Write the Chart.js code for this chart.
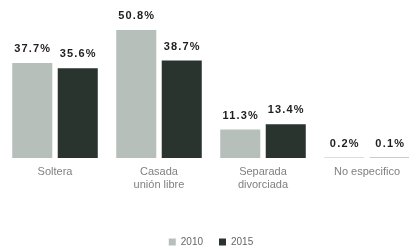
<!DOCTYPE html>
<html>
<head>
<meta charset="utf-8">
<script src="https://cdn.jsdelivr.net/npm/chart.js@4/dist/chart.umd.min.js"></script>
<style>
html,body{margin:0;padding:0;background:#fff;overflow:hidden;width:409px;height:248px;}
#wrap{width:422px;height:248px;}
</style>
</head>
<body>
<div id="wrap"><canvas id="c" width="422" height="248"></canvas></div>
<script>
const categories = [["Soltera"], ["Casada", "unión libre"], ["Separada", "divorciada"], ["No especifico"]];
const values2010 = [37.7, 50.8, 11.3, 0.2];
const values2015 = [35.6, 38.7, 13.4, 0.1];
const seriesNames = ["2010", "2015"];

const valueLabels = {
  id: 'valueLabels',
  afterDatasetsDraw(chart) {
    const ctx = chart.ctx;
    ctx.save();
    ctx.font = 'bold 11px "Liberation Sans", Arial, sans-serif';
    ctx.fillStyle = '#1e1e1e';
    ctx.textAlign = 'center';
    ctx.textBaseline = 'middle';
    try { ctx.letterSpacing = '1.2px'; } catch (e) {}
    chart.data.datasets.forEach((ds, i) => {
      chart.getDatasetMeta(i).data.forEach((bar, j) => {
        ctx.fillText(ds.data[j].toFixed(1) + '%', bar.x + 0.5, bar.y - 14);
      });
    });
    ctx.restore();
  }
};

new Chart(document.getElementById('c'), {
  type: 'bar',
  data: {
    labels: categories,
    datasets: [
      { label: seriesNames[0], data: values2010, backgroundColor: '#b7bfba', categoryPercentage: 0.875, barPercentage: 0.88 },
      { label: seriesNames[1], data: values2015, backgroundColor: '#29342f', categoryPercentage: 0.875, barPercentage: 0.88 }
    ]
  },
  options: {
    responsive: false,
    animation: false,
    layout: { padding: { left: 3, right: 3, top: 0, bottom: -9 } },
    plugins: {
      legend: {
        position: 'bottom',
        labels: {
          boxWidth: 7, boxHeight: 7, padding: 16,
          color: '#666',
          font: { size: 10, family: '"Liberation Sans", Arial, sans-serif' }
        }
      },
      tooltip: { enabled: false }
    },
    scales: {
      x: {
        grid: { display: false, drawTicks: false },
        border: { display: false },
        ticks: {
          color: '#808080', padding: 8, maxRotation: 0, autoSkip: false,
          font: { size: 11, family: '"Liberation Sans", Arial, sans-serif', lineHeight: 1.15 }
        },
        afterFit(scale) { scale.height = 63; }
      },
      y: { display: false, min: 0, max: 62.7 }
    }
  },
  plugins: [valueLabels]
});
</script>
</body>
</html>
